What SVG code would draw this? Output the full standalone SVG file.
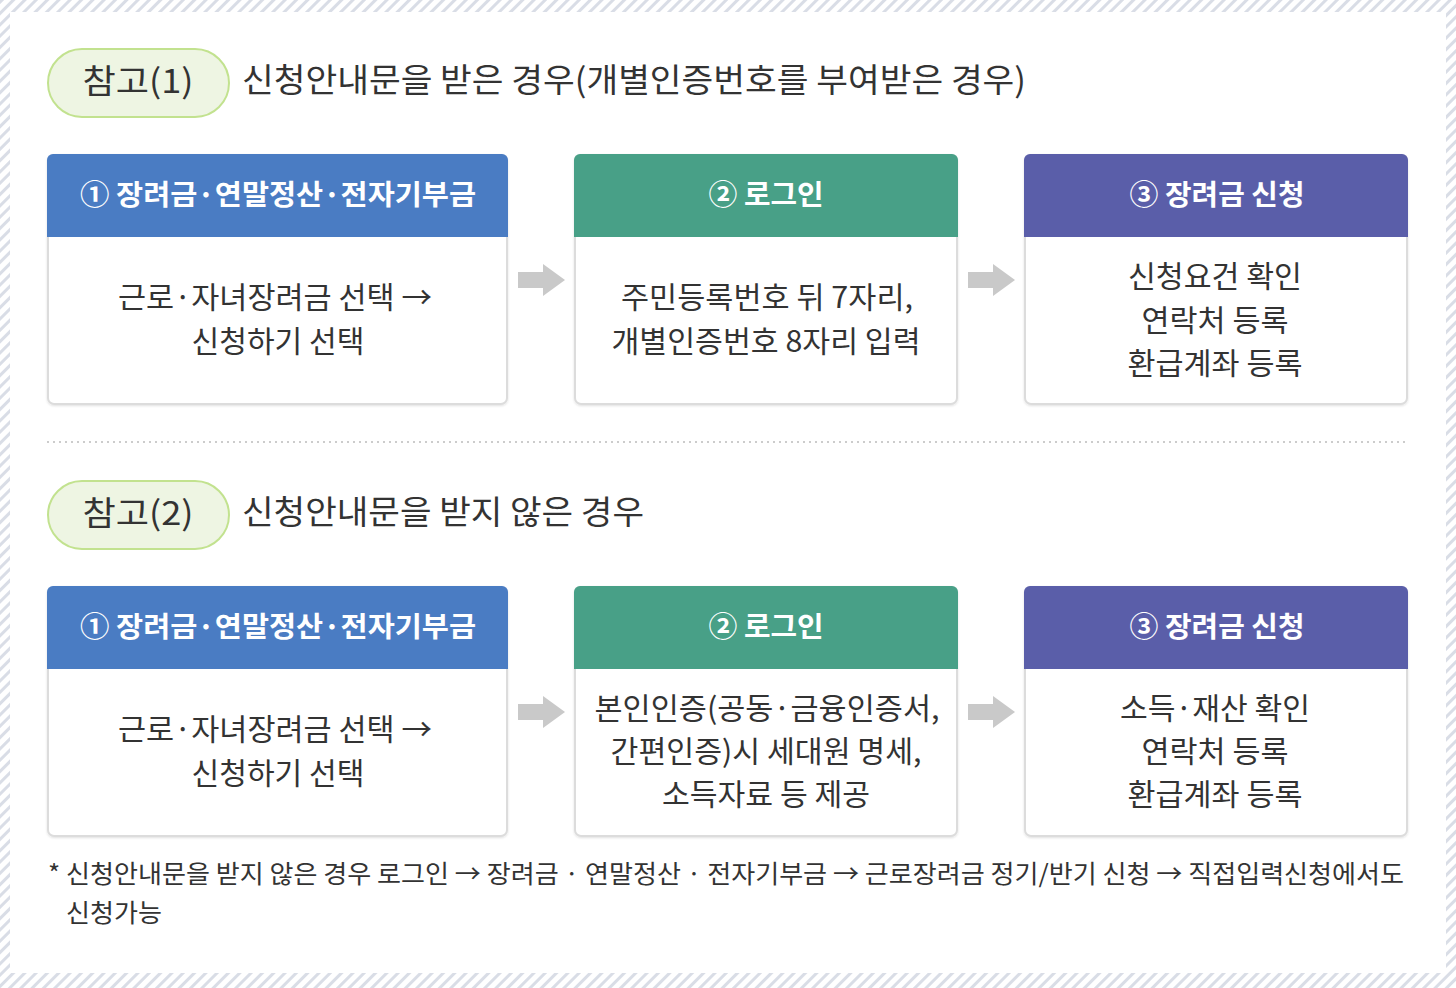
<svg xmlns="http://www.w3.org/2000/svg" width="1456" height="988" viewBox="0 0 1456 988">
<defs>
<pattern id="hatch" width="8" height="8" patternUnits="userSpaceOnUse" patternTransform="rotate(45)">
<rect width="8" height="8" fill="#ffffff"/>
<rect x="0" y="0" width="3" height="8" fill="#d9dde6"/>
</pattern>
<filter id="sh" x="-5%" y="-5%" width="110%" height="110%">
<feDropShadow dx="0" dy="1" stdDeviation="1" flood-color="#000" flood-opacity="0.12"/>
</filter>
</defs>
<style>
.t{font-family:"Noto Sans CJK KR","Noto Sans",sans-serif;fill:#333}
.title{font-size:33px}
.pilltxt{font-size:33px;text-anchor:middle}
.pill{fill:#eef5e3;stroke:#c2e28f;stroke-width:2}
.box{fill:#fff;stroke:#dcdcdc;stroke-width:2}
.hd{font-family:"Noto Sans CJK KR","Noto Sans",sans-serif;font-size:28px;font-weight:bold;fill:#fff;text-anchor:middle}
.bd{font-size:30px;text-anchor:middle}
.arr{fill:#c9c9c9}
.note{font-size:25px}
</style>
<rect x="0" y="0" width="1456" height="988" fill="url(#hatch)"/>
<rect x="10" y="12" width="1436" height="961" fill="#fff"/>

<!-- Section 1 -->
<g id="ref1">
<rect class="pill" x="48" y="49" width="181" height="68" rx="34"/>
<text class="t pilltxt" x="138" y="93" textLength="111" lengthAdjust="spacingAndGlyphs">참고(1)</text>
</g>
<text class="t title" x="242" y="92" textLength="784" lengthAdjust="spacingAndGlyphs">신청안내문을 받은 경우(개별인증번호를 부여받은 경우)</text>

<g id="r1n1">
<rect class="box" x="48" y="155" width="459" height="249" rx="6" filter="url(#sh)"/>
<path d="M47 237 V160 a6 6 0 0 1 6 -6 H502 a6 6 0 0 1 6 6 V237 Z" fill="#4a7cc3"/>
<text class="hd" x="278" y="205" textLength="396" lengthAdjust="spacingAndGlyphs">① 장려금·연말정산·전자기부금</text>
<text class="t bd" x="275" y="308" textLength="314" lengthAdjust="spacingAndGlyphs">근로·자녀장려금 선택 →</text>
<text class="t bd" x="278" y="352" textLength="173" lengthAdjust="spacingAndGlyphs">신청하기 선택</text>
</g>
<g id="r1n2">
<rect class="box" x="575" y="155" width="382" height="249" rx="6" filter="url(#sh)"/>
<path d="M574 237 V160 a6 6 0 0 1 6 -6 H952 a6 6 0 0 1 6 6 V237 Z" fill="#48a087"/>
<text class="hd" x="766" y="205" textLength="115" lengthAdjust="spacingAndGlyphs">② 로그인</text>
<text class="t bd" x="767" y="308" textLength="292" lengthAdjust="spacingAndGlyphs">주민등록번호 뒤 7자리,</text>
<text class="t bd" x="766" y="352" textLength="309" lengthAdjust="spacingAndGlyphs">개별인증번호 8자리 입력</text>
</g>
<g id="r1n3">
<rect class="box" x="1025" y="155" width="382" height="249" rx="6" filter="url(#sh)"/>
<path d="M1024 237 V160 a6 6 0 0 1 6 -6 H1402 a6 6 0 0 1 6 6 V237 Z" fill="#5a5ea9"/>
<text class="hd" x="1217" y="205" textLength="175" lengthAdjust="spacingAndGlyphs">③ 장려금 신청</text>
<text class="t bd" x="1215" y="287" textLength="174" lengthAdjust="spacingAndGlyphs">신청요건 확인</text>
<text class="t bd" x="1215" y="331" textLength="147" lengthAdjust="spacingAndGlyphs">연락처 등록</text>
<text class="t bd" x="1215" y="374" textLength="175" lengthAdjust="spacingAndGlyphs">환급계좌 등록</text>
</g>

<line x1="47" y1="442" x2="1408" y2="442" stroke="#cccccc" stroke-width="2" stroke-dasharray="2 4"/>

<!-- Section 2 -->
<g id="ref2">
<rect class="pill" x="48" y="481" width="181" height="68" rx="34"/>
<text class="t pilltxt" x="138" y="525" textLength="111" lengthAdjust="spacingAndGlyphs">참고(2)</text>
</g>
<text class="t title" x="242" y="524" textLength="402" lengthAdjust="spacingAndGlyphs">신청안내문을 받지 않은 경우</text>

<g id="r2n1">
<rect class="box" x="48" y="587" width="459" height="249" rx="6" filter="url(#sh)"/>
<path d="M47 669 V592 a6 6 0 0 1 6 -6 H502 a6 6 0 0 1 6 6 V669 Z" fill="#4a7cc3"/>
<text class="hd" x="278" y="637" textLength="396" lengthAdjust="spacingAndGlyphs">① 장려금·연말정산·전자기부금</text>
<text class="t bd" x="275" y="740" textLength="314" lengthAdjust="spacingAndGlyphs">근로·자녀장려금 선택 →</text>
<text class="t bd" x="278" y="784" textLength="173" lengthAdjust="spacingAndGlyphs">신청하기 선택</text>
</g>
<g id="r2n2">
<rect class="box" x="575" y="587" width="382" height="249" rx="6" filter="url(#sh)"/>
<path d="M574 669 V592 a6 6 0 0 1 6 -6 H952 a6 6 0 0 1 6 6 V669 Z" fill="#48a087"/>
<text class="hd" x="766" y="637" textLength="115" lengthAdjust="spacingAndGlyphs">② 로그인</text>
<text class="t bd" x="767" y="719" textLength="345" lengthAdjust="spacingAndGlyphs">본인인증(공동·금융인증서,</text>
<text class="t bd" x="766" y="762" textLength="311" lengthAdjust="spacingAndGlyphs">간편인증)시 세대원 명세,</text>
<text class="t bd" x="766" y="805" textLength="208" lengthAdjust="spacingAndGlyphs">소득자료 등 제공</text>
</g>
<g id="r2n3">
<rect class="box" x="1025" y="587" width="382" height="249" rx="6" filter="url(#sh)"/>
<path d="M1024 669 V592 a6 6 0 0 1 6 -6 H1402 a6 6 0 0 1 6 6 V669 Z" fill="#5a5ea9"/>
<text class="hd" x="1217" y="637" textLength="175" lengthAdjust="spacingAndGlyphs">③ 장려금 신청</text>
<text class="t bd" x="1215" y="719" textLength="190" lengthAdjust="spacingAndGlyphs">소득·재산 확인</text>
<text class="t bd" x="1215" y="762" textLength="147" lengthAdjust="spacingAndGlyphs">연락처 등록</text>
<text class="t bd" x="1215" y="805" textLength="175" lengthAdjust="spacingAndGlyphs">환급계좌 등록</text>
</g>

<g id="connectors">
<path class="arr" d="M518 272 H543 V264 L565 280 L543 296 V288 H518 Z"/>
<path class="arr" d="M968 272 H993 V264 L1015 280 L993 296 V288 H968 Z"/>
<path class="arr" d="M518 704 H543 V696 L565 712 L543 728 V720 H518 Z"/>
<path class="arr" d="M968 704 H993 V696 L1015 712 L993 728 V720 H968 Z"/>
</g>

<text class="t note" x="48" y="883" textLength="1356" lengthAdjust="spacingAndGlyphs">* 신청안내문을 받지 않은 경우 로그인 → 장려금 · 연말정산 · 전자기부금 → 근로장려금 정기/반기 신청 → 직접입력신청에서도</text>
<text class="t note" x="66" y="922" textLength="96" lengthAdjust="spacingAndGlyphs">신청가능</text>
</svg>
